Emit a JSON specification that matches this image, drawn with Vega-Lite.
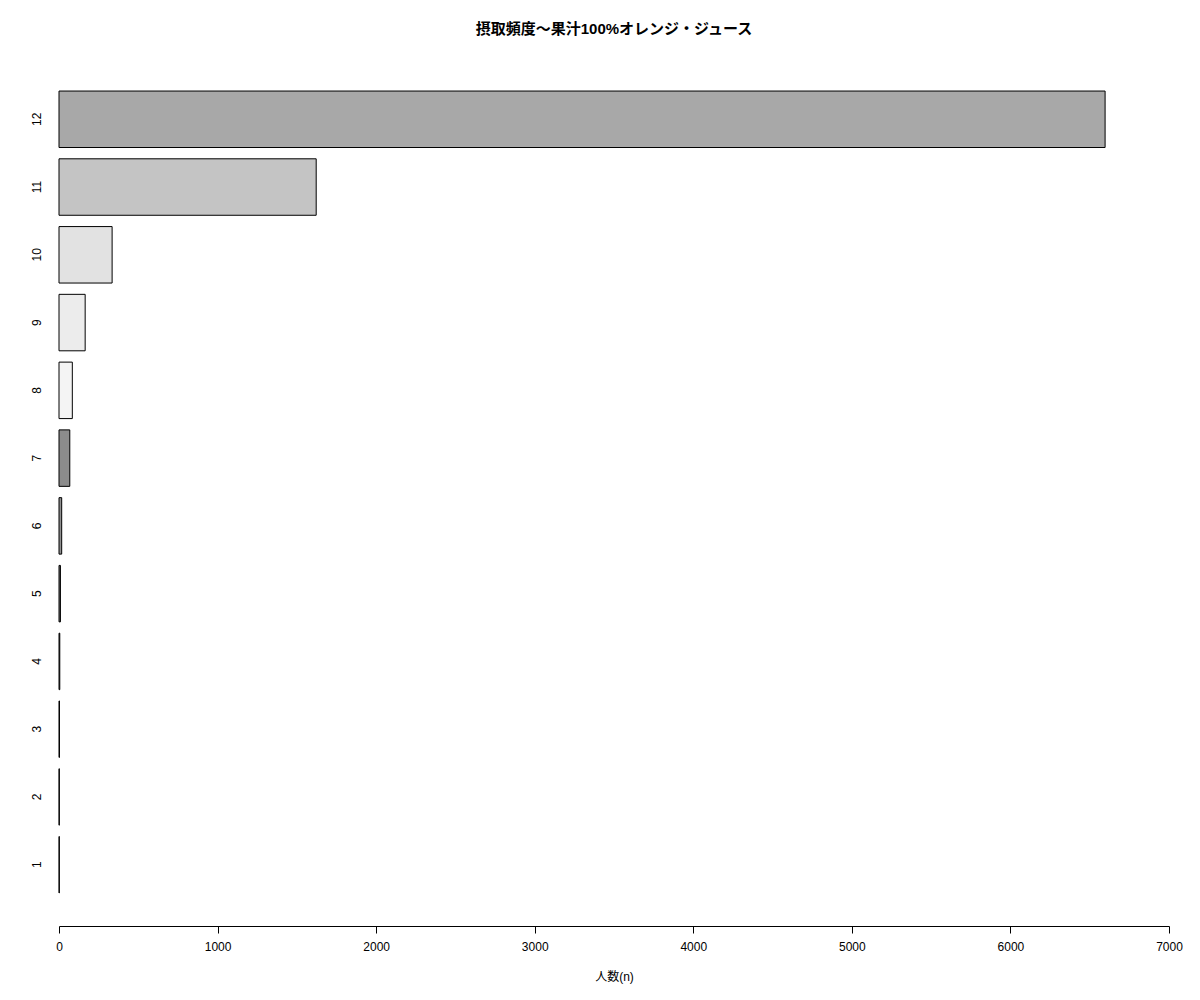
{
  "$schema": "https://vega.github.io/schema/vega-lite/v6.json",
  "autosize": {"type": "none"},
  "padding": {"left": 59, "top": 70, "right": 31, "bottom": 74},
  "width": 1110,
  "height": 856,
  "background": "white",
  "title": {
    "text": "摂取頻度〜果汁100%オレンジ・ジュース",
    "fontSize": 15,
    "fontWeight": "bold",
    "font": "Liberation Sans, Noto Sans CJK JP",
    "color": "black",
    "anchor": "middle",
    "offset": 33
  },
  "data": {
    "values": [
      {"freq": "1", "n": 2},
      {"freq": "2", "n": 2},
      {"freq": "3", "n": 3},
      {"freq": "4", "n": 5},
      {"freq": "5", "n": 9},
      {"freq": "6", "n": 17},
      {"freq": "7", "n": 68},
      {"freq": "8", "n": 84},
      {"freq": "9", "n": 165},
      {"freq": "10", "n": 335},
      {"freq": "11", "n": 1622},
      {"freq": "12", "n": 6597}
    ]
  },
  "mark": {"type": "bar", "stroke": "black", "strokeWidth": 1, "cornerRadius": 0},
  "encoding": {
    "y": {
      "field": "freq",
      "type": "ordinal",
      "sort": ["12", "11", "10", "9", "8", "7", "6", "5", "4", "3", "2", "1"],
      "scale": {"paddingInner": 0.1667, "paddingOuter": 0.399, "align": 0.389},
      "axis": {
        "title": null,
        "domain": false,
        "ticks": false,
        "labelAngle": 270,
        "labelFontSize": 12,
        "labelFont": "Liberation Sans",
        "labelColor": "black",
        "labelPadding": 16
      }
    },
    "x": {
      "field": "n",
      "type": "quantitative",
      "scale": {"domain": [0, 7000], "nice": false},
      "axis": {
        "title": "人数(n)",
        "values": [0, 1000, 2000, 3000, 4000, 5000, 6000, 7000],
        "format": "d",
        "grid": false,
        "tickSize": 7,
        "tickColor": "black",
        "domainColor": "black",
        "labelFontSize": 12,
        "labelFont": "Liberation Sans",
        "labelColor": "black",
        "labelPadding": 8,
        "labelFlush": false,
        "titleFontSize": 12,
        "titleFont": "Liberation Sans, Noto Sans CJK JP",
        "titleFontWeight": "normal",
        "titleColor": "black",
        "titlePadding": 19
      }
    },
    "fill": {
      "field": "freq",
      "type": "nominal",
      "scale": {
        "domain": ["1", "2", "3", "4", "5", "6", "7", "8", "9", "10", "11", "12"],
        "range": ["#808080", "#808080", "#808080", "#606060", "#707070", "#909090", "#8c8c8c", "#f4f4f4", "#ececec", "#e2e2e2", "#c4c4c4", "#a8a8a8"]
      },
      "legend": null
    }
  },
  "config": {
    "view": {"stroke": null}
  }
}
